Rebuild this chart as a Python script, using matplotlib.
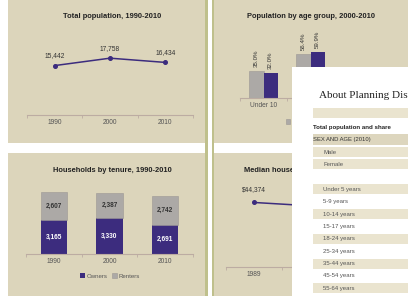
import matplotlib.pyplot as plt
from matplotlib.patches import Rectangle
import numpy as np

W, H = 408, 296

# Total population, 1990-2010
pop_years = ['1990', '2000', '2010']
pop_values = [15442, 17758, 16434]

# Population by age group, 2000-2010 (third group hidden under the page)
age_groups = ['Under 10', '10 to 19']
age_2000 = [35.0, 56.4]
age_2010 = [32.0, 59.9]

# Households by tenure, 1990-2010
hh_years = ['1990', '2000', '2010']
hh_owners = [3165, 3330, 2691]
hh_renters = [2607, 2387, 2742]

# Median household income (only the first point is readable)
inc_years = ['1989', '1999', '2009']
inc_values = [44374, 42100]

# the page laid over the dashboard
doc_title = 'About Planning District 1'
doc_rows = ['Male', 'Female', '', 'Under 5 years', '5-9 years', '10-14 years',
            '15-17 years', '18-24 years', '25-34 years', '35-44 years',
            '45-54 years', '55-64 years']

BEIGE = '#DCD5BB'
OLIVE = '#BFC08C'
PURPLE = '#3C2C7E'
GREY = '#ACA9A6'
AXC = '#BCACA2'
TXT = '#555555'

plt.rcParams['font.family'] = ['Liberation Sans', 'DejaVu Sans']


def box(x0, y0, x1, y1):
    return [x0 / W, 1 - y1 / H, (x1 - x0) / W, (y1 - y0) / H]


def style(ax, labels):
    n = 3
    ax.set_facecolor('none')
    for s in ['top', 'right', 'left']:
        ax.spines[s].set_visible(False)
    ax.spines['bottom'].set_color(AXC)
    ax.spines['bottom'].set_linewidth(0.8)
    ax.set_yticks([])
    ax.set_xlim(-0.5, n - 0.5)
    ax.set_xticks(range(len(labels)))
    ax.set_xticklabels(labels)
    ax.set_xticks(np.arange(-0.5, n), minor=True)
    ax.tick_params(axis='x', which='major', length=0, pad=3.2, labelsize=4.8, labelcolor=TXT)
    ax.tick_params(axis='x', which='minor', length=2, width=0.6, color=AXC)


fig = plt.figure(figsize=(W / 100, H / 100), dpi=100)

# background with the four panels
bg = fig.add_axes([0, 0, 1, 1], zorder=-5)
bg.set_xlim(0, W)
bg.set_ylim(H, 0)
bg.axis('off')
for x0, y0, x1, y1 in [(8, 0, 206, 143), (214, 0, 408, 143), (8, 153, 206, 296), (214, 153, 408, 296)]:
    bg.add_patch(Rectangle((x0, y0), x1 - x0, y1 - y0, color=BEIGE, lw=0))
bg.add_patch(Rectangle((205, 0), 3, H, color=OLIVE, lw=0))
bg.add_patch(Rectangle((211.5, 0), 2.5, H, color=OLIVE, lw=0))

titles = [(112, 17, 'Total population, 1990-2010'),
          (311, 17, 'Population by age group, 2000-2010'),
          (112, 171, 'Households by tenure, 1990-2010'),
          (311, 170, 'Median household income, 1989-2009')]
for x, y, t in titles:
    bg.text(x, y, t, ha='center', va='center', fontsize=5.4, fontweight='bold', color='#222222')

# total population
ax = fig.add_axes(box(27, 35, 193, 115))
style(ax, pop_years)
ax.set_ylim(0, 25000)
ax.plot(range(3), pop_values, color=PURPLE, lw=1.1, marker='o', ms=2.6)
for i, v in enumerate(pop_values):
    ax.annotate(f'{v:,}', (i, v), xytext=(0, 7), textcoords='offset points',
                ha='center', va='center', fontsize=4.8, color='#333333')

# population by age group
ax = fig.add_axes(box(240, 30, 381, 98))
style(ax, age_groups)
ax.set_ylim(0, 88)
xs = np.arange(len(age_groups))
b1 = ax.bar(xs - 0.15, age_2000, 0.3, color=GREY, edgecolor='#9C9894', lw=0.4, label='2000')
b2 = ax.bar(xs + 0.15, age_2010, 0.3, color=PURPLE, label='2010')
for bars, vals in [(b1, age_2000), (b2, age_2010)]:
    for r, v in zip(bars, vals):
        ax.annotate(f'{v:.1f}%', (r.get_x() + r.get_width() / 2, v), xytext=(0, 3),
                    textcoords='offset points', ha='center', va='bottom', rotation=90,
                    fontsize=4.4, color='#333333')
ax.legend(loc='center', bbox_to_anchor=(307 / W, 1 - 122 / H), bbox_transform=fig.transFigure,
          ncol=2, frameon=False, fontsize=4.2, handlelength=0.7, handleheight=0.7,
          columnspacing=0.8, handletextpad=0.3, labelcolor=TXT)

# households by tenure
ax = fig.add_axes(box(26, 180, 193, 254))
style(ax, hh_years)
ax.set_ylim(0, 6900)
xs = np.arange(3)
ax.bar(xs, hh_owners, 0.47, color=PURPLE, label='Owners')
ax.bar(xs, hh_renters, 0.47, bottom=hh_owners, color=GREY, edgecolor='#9C9894', lw=0.4, label='Renters')
for i in range(3):
    ax.text(i, hh_owners[i] / 2, f'{hh_owners[i]:,}', ha='center', va='center',
            fontsize=4.7, fontweight='bold', color='white')
    ax.text(i, hh_owners[i] + hh_renters[i] / 2, f'{hh_renters[i]:,}', ha='center', va='center',
            fontsize=4.7, fontweight='bold', color='#333333')
ax.legend(loc='center', bbox_to_anchor=(110 / W, 1 - 276 / H), bbox_transform=fig.transFigure,
          ncol=2, frameon=False, fontsize=4.4, handlelength=0.7, handleheight=0.7,
          columnspacing=0.8, handletextpad=0.3, labelcolor=TXT)

# median household income
ax = fig.add_axes(box(226, 187, 393, 267))
style(ax, inc_years)
ax.set_ylim(0, 55000)
ax.plot(range(len(inc_values)), inc_values, color=PURPLE, lw=1.1, marker='o', ms=2.6)
for i, v in enumerate(inc_values):
    ax.annotate(f'${v:,}', (i, v), xytext=(0, 9), textcoords='offset points',
                ha='center', va='center', fontsize=4.8, color='#333333')

# page laid over the right side
doc = fig.add_axes(box(292, 67, 408, 296), zorder=10)
doc.set_xlim(292, 408)
doc.set_ylim(296, 67)
doc.axis('off')
doc.add_patch(Rectangle((292, 67), 116, 229, color='white', lw=0))
doc.text(319, 95, doc_title, family=['Liberation Serif', 'DejaVu Serif'], fontsize=8,
         va='center', ha='left', color='#222222')
doc.add_patch(Rectangle((313, 108), 95, 10, color='#EAE4CF', lw=0))
doc.text(313, 127, 'Total population and share', fontsize=4.4, fontweight='bold',
         va='center', color='#222222')
doc.add_patch(Rectangle((313, 134), 95, 10.5, color='#DDD6BE', lw=0))
doc.text(313, 139.5, 'SEX AND AGE (2010)', fontsize=4.2, va='center', color='#333333')
y = 152
for i, row in enumerate(doc_rows):
    if i < 2 or i >= 3 and i % 2 == 1:
        doc.add_patch(Rectangle((313, y - 5), 95, 10, color='#EAE4CF', lw=0))
    doc.text(323, y, row, fontsize=4.3, va='center', color=TXT)
    y += 12.4

fig.savefig('out.png', dpi=100)
